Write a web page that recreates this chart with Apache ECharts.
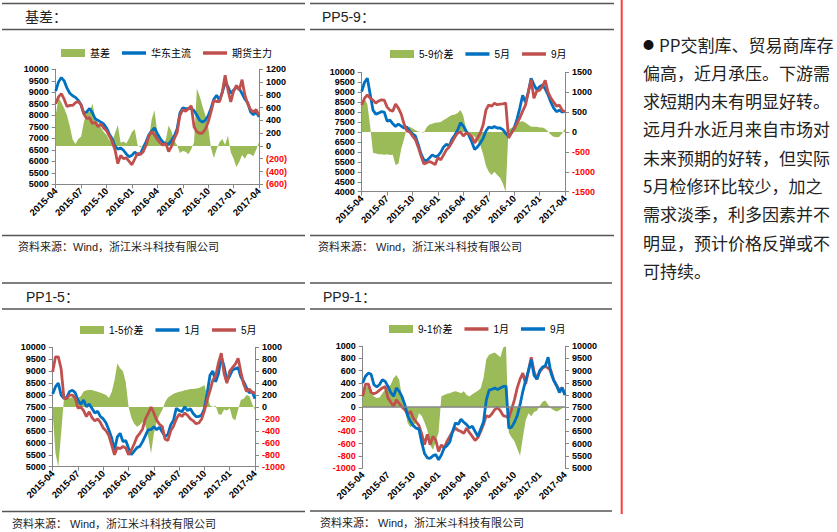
<!DOCTYPE html>
<html><head><meta charset="utf-8">
<script src="https://cdn.jsdelivr.net/npm/echarts@6/dist/echarts.min.js"></script>
<style>html,body{margin:0;padding:0;background:#fff}#c{width:837px;height:532px}</style>
</head><body><div id="c"></div>
<script>
const dates = ["2015-04-01","2015-04-11","2015-04-21","2015-05-01","2015-05-11","2015-05-21","2015-06-01","2015-06-11","2015-06-21",
"2015-07-01","2015-07-11","2015-07-21","2015-08-01","2015-08-11","2015-08-21","2015-09-01","2015-09-11","2015-09-21",
"2015-10-01","2015-10-11","2015-10-21","2015-11-01","2015-11-11","2015-11-21","2015-12-01","2015-12-11","2015-12-21",
"2016-01-01","2016-01-11","2016-01-21","2016-02-01","2016-02-11","2016-02-21","2016-03-01","2016-03-11","2016-03-21",
"2016-04-01","2016-04-11","2016-04-21","2016-05-01","2016-05-11","2016-05-21","2016-06-01","2016-06-11","2016-06-21",
"2016-07-01","2016-07-11","2016-07-21","2016-08-01","2016-08-11","2016-08-21","2016-09-01","2016-09-11","2016-09-21",
"2016-10-01","2016-10-11","2016-10-21","2016-11-01","2016-11-11","2016-11-21","2016-12-01","2016-12-11","2016-12-21",
"2017-01-01","2017-01-11","2017-01-21","2017-02-01","2017-02-11","2017-02-21","2017-03-01","2017-03-11","2017-03-21",
"2017-04-01"];

// Chart 1: 基差
const c1Basis = [480,760,680,590,480,310,100,30,110,150,380,530,530,660,450,360,290,220,170,90,60,200,330,50,70,40,120,220,260,10,-20,10,50,120,420,560,200,40,10,100,320,230,80,10,-110,-80,-90,-130,-50,60,900,780,620,480,300,-30,-190,-50,60,110,20,160,-100,-200,-330,-250,-140,-200,-120,-130,-160,-60,60];
const c1Spot = [9050,9450,9640,9500,9180,8960,8850,8780,8650,8450,8070,8150,8300,8100,7850,7780,7700,7620,7450,7180,6980,6650,6530,6580,6480,6320,6200,6260,6400,6280,6330,6600,6850,7150,7320,7450,7200,6990,6830,6770,6750,6900,7100,7400,8100,8320,8290,8290,8300,8200,8000,7780,7700,7780,7980,8300,8700,8870,8650,9000,9420,9250,8950,9090,9220,9160,8940,8700,8550,8150,8020,8140,7930];
const c1Fut = [8500,8800,8940,8700,8380,8430,8430,8550,8600,8450,8050,7860,7900,7640,7700,7500,7620,7450,7330,7100,6850,6500,5900,6250,6120,6150,6000,5850,6100,6350,6300,6420,6700,7100,7300,7150,6950,6800,6700,6780,6420,6650,6980,7250,8000,8250,8180,8280,8420,7500,7280,7220,7230,7400,7700,8150,8650,8600,8600,9000,9740,9100,8580,9050,9300,9100,9550,8870,8500,8250,8150,8250,8000];

// Chart 2: PP5-9
const c2Spread = [780,850,700,150,-520,-540,-560,-560,-570,-560,-580,-570,-830,-800,-420,-180,100,130,90,50,10,0,-20,120,190,210,230,240,250,300,340,390,430,440,480,550,400,50,-30,-60,-120,-220,-330,-560,-850,-1000,-1080,-1000,-1080,-1150,-1300,-1500,60,100,150,220,260,270,230,180,130,130,130,110,110,80,10,-70,-120,-130,-120,-30,80];
const c2May = [9030,9500,9700,8900,8100,7900,7950,8020,8000,7550,7600,7420,7280,7400,7300,7200,7250,7050,6900,6800,6380,5900,5600,5550,5700,5850,5760,5800,5980,6250,6380,6300,6650,6850,7100,7470,7300,7050,6820,6500,6120,6250,6450,6680,7050,7250,7200,7270,7200,7200,7120,6930,6770,6950,7200,7650,8200,8850,8500,9000,9700,9380,9120,9280,9360,9170,8870,8500,8200,8020,8100,8000,8050];
const c2Sep = [8360,8700,8860,8700,8600,8450,8560,8620,8600,8250,8100,8050,8400,8200,7900,7400,7050,7000,6800,6620,6250,5800,5400,5450,5520,5450,5360,5720,5600,5850,6100,6250,6500,6750,6950,7000,6800,6950,6900,6770,6450,6700,6950,7350,8100,8360,8300,8440,8370,8400,8410,8460,6700,6950,7150,7450,7700,8050,8350,9000,9630,8700,9050,9100,9280,9600,9000,8700,8500,8300,8350,8100,8000];

// Chart 3: PP1-5
const c3Spread = [-100,-780,-1000,-440,140,150,150,165,170,150,180,260,280,285,285,270,255,240,220,200,150,250,450,730,650,600,420,0,-180,-280,-330,-300,-250,-300,-500,-780,-450,-250,-140,-50,80,160,190,220,240,255,265,280,290,300,300,310,320,340,370,180,30,0,20,-120,-130,-40,-60,-20,-190,-220,-40,120,140,200,180,50,-50];
const c3Jan = [8050,8350,8500,8000,7860,7900,8150,8200,8100,7790,7600,7790,7510,7620,7440,7250,7320,7100,7000,6830,6540,6200,5700,6250,6400,6050,6100,5770,5500,5650,5800,5850,6050,6300,6550,6550,6680,6550,6650,6450,6260,6350,6750,6950,7450,7350,7300,7510,7350,7430,7230,7100,7100,7160,7440,8100,8840,9000,8550,8900,9600,9200,8600,8800,9050,9100,9150,8750,8550,8300,8100,8150,7850];
const c3May = [8980,9600,9600,9100,7860,7850,8000,8000,7880,7450,7500,7350,7100,7300,7050,6920,7000,6850,6620,6500,6300,5900,5500,5800,5750,5850,5780,5500,5700,5950,6250,6400,6580,7000,7230,7500,7250,6950,6780,6680,6150,6100,6500,6700,7000,7200,7100,7250,7150,7000,6920,6800,6830,7000,7350,7800,8200,8630,8800,9350,9750,8900,8500,9000,9150,9300,9540,8950,8450,8150,8250,8100,8100];

// Chart 4: PP9-1
const c4Spread = [180,320,360,250,175,150,160,230,290,330,370,480,530,450,150,-40,-260,-330,-300,-260,-100,-140,-250,-380,-620,-700,-560,-420,180,200,220,230,250,260,250,230,260,200,175,210,240,270,310,480,790,860,880,900,860,820,980,1000,-420,-500,-560,-680,-800,-500,-220,-100,-150,-80,-60,20,90,110,40,-20,-50,-70,-50,-20,0];
const c4Jan = [7950,8450,8450,8100,8050,8100,8200,8290,8350,7880,7700,7530,7800,7650,7500,7400,7200,7330,7050,6900,6750,6400,5960,6380,5960,6300,6150,5680,5950,5820,6100,6300,6500,6640,6550,6500,6420,6640,6450,6300,6130,6250,6500,6800,7150,7100,7230,7400,7480,7350,7150,7120,7050,7420,7800,8290,8650,8900,8450,9000,9550,8950,8650,8950,9100,9180,9100,9000,8600,8400,8200,8300,8000];
const c4Sep = [8490,8770,8900,8850,8420,8330,8430,8630,8560,8350,8100,7950,8290,8150,7930,7600,7150,6920,6740,6640,6600,6050,5600,5420,5400,5500,5550,5340,5530,5820,5920,6070,6500,6850,6800,7000,6880,6780,6650,6720,6500,6300,6600,6900,7800,8200,8230,8290,8220,8290,8350,8360,6640,6680,6880,7150,7600,8150,8600,9000,9450,8800,8650,9000,9150,9200,9550,8900,8600,8380,8100,8300,8000];

const titles = ["基差：","PP5-9：","PP1-5：","PP9-1："];
const sourceText1 = "资料来源：Wind，浙江米斗科技有限公司";
const sourceText2 = "资料来源： Wind，浙江米斗科技有限公司";
const noteBullet = "●";
const noteLines = ["PP交割库、贸易商库存","偏高，近月承压。下游需","求短期内未有明显好转。","远月升水近月来自市场对","未来预期的好转，但实际","5月检修环比较少，加之","需求淡季，利多因素并不","明显，预计价格反弹或不","可持续。"];

const GREEN = '#9BBB59', BLUE = '#0070C0', RED = '#C0504D', AX = '#868686';
const NUMF = 'Liberation Sans, Arial, sans-serif';
const CJKF = 'Liberation Sans, "Noto Sans CJK SC", sans-serif';
const LINE_ICON = 'path://M0 0 H24 V3.5 H0 Z';

const grids = [
  {left:55.7, top:69.3, width:203.3, height:115},
  {left:361.7, top:72.3, width:203.3, height:119.4},
  {left:52.7, top:347.3, width:202.3, height:119.4},
  {left:362.7, top:346.3, width:202.3, height:121.7}
];

function xAx(g, showLine){
  return {type:'category', gridIndex:g, data:dates, boundaryGap:false,
    axisLine:{show:showLine, onZero:false, lineStyle:{color:AX}},
    axisTick:{show:showLine, interval:8, length:4, lineStyle:{color:AX}},
    axisLabel:{interval:8, rotate:45, fontSize:9.5, fontWeight:'bold', fontFamily:NUMF, color:'#000', margin:5,
      formatter:v=>v.slice(0,7)},
    splitLine:{show:false}};
}
function yAx(g, pos, min, max, interval, fmt){
  return {type:'value', gridIndex:g, position:pos, min, max, interval,
    axisLine:{show:true, onZero:false, lineStyle:{color:AX}},
    axisTick:{show:true, length:4, lineStyle:{color:AX}},
    splitLine:{show:false},
    axisLabel:{fontSize:9, fontWeight:'bold', fontFamily:NUMF, margin:7,
      color:(v)=> (Number(v) < 0 ? '#FF0000' : '#000'), formatter:fmt}};
}
const paren = v => v < 0 ? '(' + (-v) + ')' : String(v);
const plain = v => String(v);

function areaS(name, data, g, yi, extra){
  return Object.assign({type:'line', name, xAxisIndex:g, yAxisIndex:yi, data, symbol:'none', showSymbol:false,
    lineStyle:{width:0, color:GREEN}, itemStyle:{color:GREEN}, areaStyle:{color:GREEN, opacity:1}, z:1, silent:true}, extra||{});
}
function lineS(name, data, g, yi, color){
  return {type:'line', name, xAxisIndex:g, yAxisIndex:yi, data, symbol:'none', showSymbol:false,
    lineStyle:{width:2.8, color}, itemStyle:{color}, z:2, silent:true};
}

const legendBase = {itemWidth:24, itemHeight:8, itemGap:12, selectedMode:false,
  textStyle:{fontSize:10, color:'#000', fontFamily:CJKF}, formatter:n=>n.split('_')[1]};
function legendData(names){
  return [{name:names[0], icon:'rect'}, {name:names[1], icon:LINE_ICON}, {name:names[2], icon:LINE_ICON}];
}

const option = {
  animation:false,
  grid: grids,
  xAxis: [xAx(0,true), xAx(1,true), xAx(2,true), xAx(3,false)],
  yAxis: [
    yAx(0,'left',5000,10000,500,plain), yAx(0,'right',-600,1200,200,paren),
    yAx(1,'left',4000,10000,500,plain), yAx(1,'right',-1500,1500,500,plain),
    yAx(2,'left',5000,10000,500,plain), yAx(2,'right',-1000,1000,200,plain),
    yAx(3,'left',-1000,1000,200,plain), yAx(3,'right',5000,10000,500,plain)
  ],
  legend: [
    Object.assign({left:56, top:43, data:legendData(['c1_基差','c1_华东主流','c1_期货主力'])}, legendBase),
    Object.assign({left:385, top:44, data:legendData(['c2_5-9价差','c2_5月','c2_9月'])}, legendBase),
    Object.assign({left:75, top:320, data:legendData(['c3_1-5价差','c3_1月','c3_5月'])}, legendBase),
    Object.assign({left:384, top:319, data:legendData(['c4_9-1价差','c4_1月','c4_9月'])}, legendBase)
  ],
  series: [
    areaS('c1_基差', c1Basis, 0, 1),
    lineS('c1_华东主流', c1Spot, 0, 0, BLUE),
    lineS('c1_期货主力', c1Fut, 0, 0, RED),
    areaS('c2_5-9价差', c2Spread, 1, 3),
    lineS('c2_5月', c2May, 1, 2, BLUE),
    lineS('c2_9月', c2Sep, 1, 2, RED),
    areaS('c3_1-5价差', c3Spread, 2, 5),
    lineS('c3_1月', c3Jan, 2, 4, BLUE),
    lineS('c3_5月', c3May, 2, 4, RED),
    areaS('c4_9-1价差', c4Spread, 3, 6, {markLine:{silent:true, symbol:['none','none'], label:{show:false},
      lineStyle:{color:AX, width:1.5, type:'solid'}, data:[{yAxis:0}]}}),
    lineS('c4_1月', c4Jan, 3, 7, RED),
    lineS('c4_9月', c4Sep, 3, 7, BLUE)
  ],
  graphic: {elements: []}
};

const G = option.graphic.elements;
function hline(x1,x2,y){ G.push({type:'line', shape:{x1,y1:y,x2,y2:y}, style:{stroke:'#555', lineWidth:1.5}, silent:true}); }
function txt(x,y,text,size,font,fill){ G.push({type:'text', x, y, silent:true,
  style:{text, fontSize:size, fontFamily:font, fill:fill||'#222', verticalAlign:'middle', align:'left'}}); }

// panel rules
hline(2,305,3.5); hline(2,305,29.5); hline(2,305,235.5);
hline(310,614,3.5); hline(310,614,29.5); hline(310,614,235.5);
hline(2,305,283); hline(2,305,309); hline(2,305,511.5);
hline(310,612,283); hline(310,612,309); hline(310,612,511);
// titles
txt(25,17,titles[0],14,CJKF);
txt(322,17,titles[1],14,CJKF);
txt(26,297,titles[2],14,CJKF);
txt(323,297,titles[3],14,CJKF);
// sources
txt(18,247,sourceText1,11,CJKF);
txt(318,247,sourceText2,11,CJKF);
txt(12,524,sourceText2,11,CJKF);
txt(320,523,sourceText2,11,CJKF);
// red divider
G.push({type:'line', shape:{x1:621.7,y1:0,x2:621.7,y2:514}, style:{stroke:'#FF3B3B', lineWidth:2}, silent:true});
// note text
const NOTEF = '"Noto Sans CJK SC", sans-serif';
txt(643, 44, noteBullet, 11, NOTEF, '#111');
txt(659, 44, noteLines[0], 17, NOTEF, '#222');
noteLines.slice(1).forEach((t,i)=> txt(643, 44 + (i+1)*28.3, t, 17, NOTEF, '#222'));

const chart = echarts.init(document.getElementById('c'), null, {renderer:'svg'});
chart.setOption(option);
</script></body></html>
